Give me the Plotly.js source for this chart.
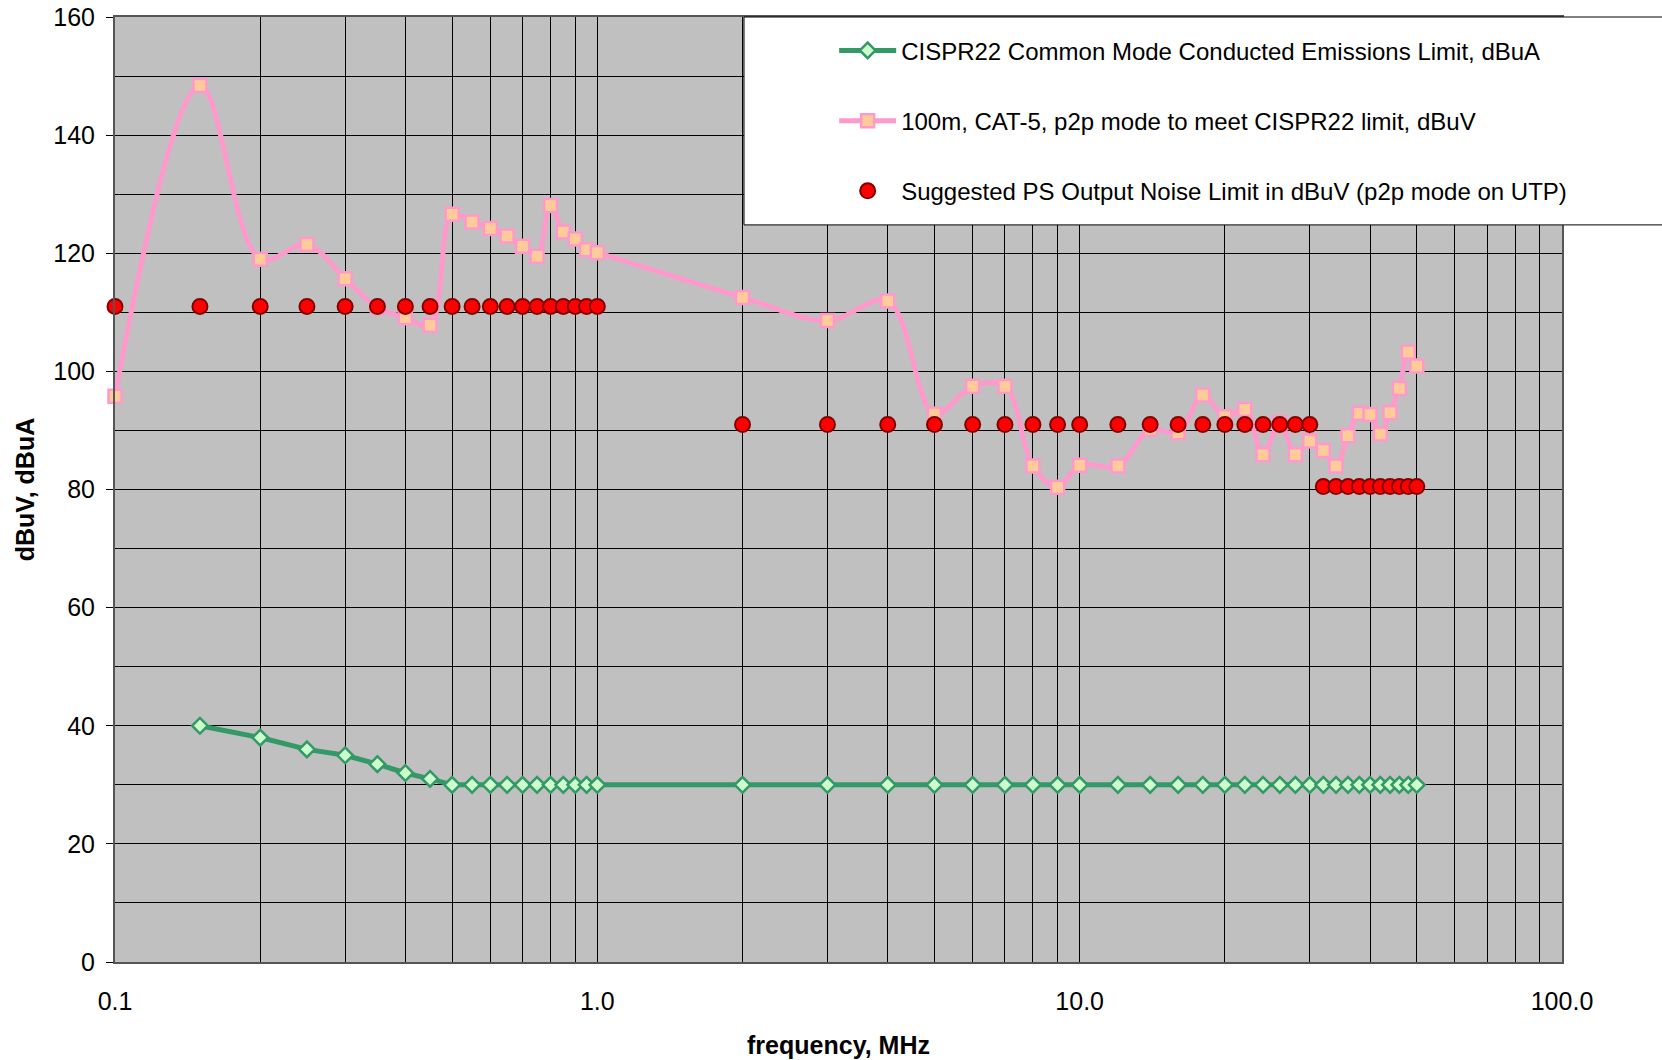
<!DOCTYPE html>
<html>
<head>
<meta charset="utf-8">
<script src="https://cdn.plot.ly/plotly-3.0.1.min.js"></script>
<style>html,body{margin:0;padding:0;background:#fff;}#chart{width:1662px;height:1060px;}</style>
</head>
<body>
<div id="chart"></div>
<script>
// ---- data ----
const cisprFreq = [0.15,0.2,0.25,0.3,0.35,0.4,0.45,0.5,0.55,0.6,0.65,0.7,0.75,0.8,0.85,0.9,0.95,1.0,
  2,3,4,5,6,7,8,9,10,12,14,16,18,20,22,24,26,28,30,32,34,36,38,40,42,44,46,48,50];
const cisprLimit = [40,38,36,35,33.5,32,31,30,30,30,30,30,30,30,30,30,30,30,
  30,30,30,30,30,30,30,30,30,30,30,30,30,30,30,30,30,30,30,30,30,30,30,30,30,30,30,30,30];

const cat5Freq = [0.1,0.15,0.2,0.25,0.3,0.35,0.4,0.45,0.5,0.55,0.6,0.65,0.7,0.75,0.8,0.85,0.9,0.95,1.0,
  2,3,4,5,6,7,8,9,10,12,14,16,18,20,22,24,26,28,30,32,34,36,38,40,42,44,46,48,50];
const cat5Values = [95.8,148.4,119.0,121.5,115.7,110.8,109.1,107.8,126.6,125.3,124.2,122.9,121.2,119.5,128.1,123.6,122.4,120.6,120.1,
  112.5,108.6,111.9,92.8,97.5,97.5,84.0,80.4,84.1,
  84.0,90.2,89.6,96.0,92.3,93.6,85.9,91.3,85.9,88.2,
  86.6,84.0,89.1,92.9,92.7,89.4,93.0,97.1,103.3,100.9];

const psFreq = [0.1,0.15,0.2,0.25,0.3,0.35,0.4,0.45,0.5,0.55,0.6,0.65,0.7,0.75,0.8,0.85,0.9,0.95,1.0,
  2,3,4,5,6,7,8,9,10,12,14,16,18,20,22,24,26,28,30,
  32,34,36,38,40,42,44,46,48,50];
const psLimit = [111,111,111,111,111,111,111,111,111,111,111,111,111,111,111,111,111,111,111,
  91,91,91,91,91,91,91,91,91,91,91,91,91,91,91,91,91,91,91,
  80.5,80.5,80.5,80.5,80.5,80.5,80.5,80.5,80.5,80.5];

const xTickVals = [0.1,0.2,0.3,0.4,0.5,0.6,0.7,0.8,0.9,1,2,3,4,5,6,7,8,9,10,20,30,40,50,60,70,80,90,100];
const xTickText = ['0.1','','','','','','','','','1.0','','','','','','','','','10.0','','','','','','','','','100.0'];

const names = [
  'CISPR22 Common Mode Conducted Emissions Limit, dBuA',
  '100m, CAT-5, p2p mode to meet CISPR22 limit, dBuV',
  'Suggested PS Output Noise Limit in dBuV (p2p mode on UTP)'
];

const FONT = 'Liberation Sans, Arial, sans-serif';

const traces = [
  {x: cisprFreq, y: cisprLimit, name: names[0], type: 'scatter', mode: 'lines+markers', legendgroup: 'a',
   cliponaxis: false,
   line: {color: '#339966', width: 5},
   marker: {symbol: 'diamond', size: 12, color: '#CCFFCC', line: {color: '#339966', width: 2.5}}},
  {x: cat5Freq, y: cat5Values, name: names[1], type: 'scatter', mode: 'lines+markers', legendgroup: 'b',
   cliponaxis: false,
   line: {color: '#FF99CC', width: 5, shape: 'spline', smoothing: 1.0},
   marker: {symbol: 'square', size: 13, color: '#FFCC99', line: {color: '#FF99CC', width: 2.5}}},
  {x: psFreq, y: psLimit, name: names[2], type: 'scatter', mode: 'markers', legendgroup: 'c',
   cliponaxis: false,
   marker: {symbol: 'circle', size: 15, color: '#FF0000', line: {color: '#800000', width: 2}}}
];

const layout = {
  width: 1662, height: 1060,
  margin: {l: 115, r: 100, t: 17, b: 98},
  paper_bgcolor: '#FFFFFF',
  plot_bgcolor: '#C0C0C0',
  font: {family: FONT, color: '#000', size: 24},
  showlegend: true,
  legend: {x: 0.497, xanchor: 'left', y: 0.988, yanchor: 'top', bgcolor: 'rgba(0,0,0,0)', borderwidth: 0,
           itemwidth: 57,
           traceorder: 'grouped', tracegroupgap: 36, font: {family: FONT, size: 24, color: '#000'}},
  xaxis: {type: 'log', range: [-1, 2], tickvals: xTickVals, ticktext: xTickText,
          showgrid: true, gridcolor: '#000', gridwidth: 1, ticks: '', ticklabelstandoff: 16,
          showline: true, linecolor: '#555', linewidth: 2, mirror: true, zeroline: false,
          tickfont: {family: FONT, size: 25, color: '#000'},
          title: {text: '<b>frequency, MHz</b>', font: {family: FONT, size: 25, color: '#000'}, standoff: 22}},
  yaxis: {range: [0, 160], dtick: 20, tick0: 0, showgrid: true, gridcolor: '#000', gridwidth: 1,
          ticks: 'outside', ticklen: 7, tickcolor: '#000', ticklabelstandoff: 6,
          minor: {dtick: 10, showgrid: true, gridcolor: '#000', gridwidth: 1, ticks: ''},
          showline: true, linecolor: '#555', linewidth: 2, mirror: true, zeroline: false,
          tickfont: {family: FONT, size: 25, color: '#000'},
          title: {text: '<b>dBuV, dBuA</b>', font: {family: FONT, size: 25, color: '#000'}, standoff: 12}},
  shapes: [
    {type: 'rect', xref: 'paper', yref: 'paper', x0: 0.4347, x1: 1.3, y0: 0.78, y1: 1.0,
     fillcolor: '#FFFFFF', line: {color: '#000', width: 1}, layer: 'above'}
  ]
};

Plotly.newPlot('chart', traces, layout, {displayModeBar: false, staticPlot: true});
</script>
</body>
</html>
